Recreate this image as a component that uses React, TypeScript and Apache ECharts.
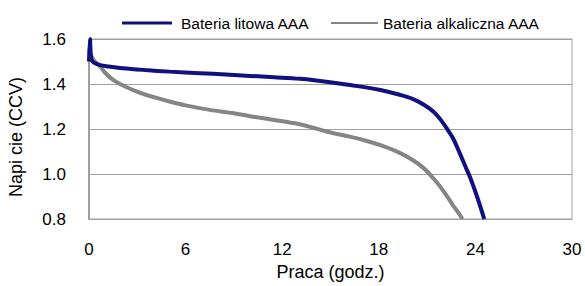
import React, { useEffect, useRef } from "react";
import * as echarts from "echarts";

const seriesNames = ["Bateria litowa AAA", "Bateria alkaliczna AAA"];
const xTicks = [0, 6, 12, 18, 24, 30];
const yTicks = [0.8, 1.0, 1.2, 1.4, 1.6];
const xTitle = "Praca (godz.)";
const yTitle = "Napi cie (CCV)";

const lithiumHours = [0, 0.06, 0.14, 0.3, 0.7, 1.2, 2.1, 3.5, 5, 6.9, 8.5, 10, 11.5, 13.1, 14.5, 16.2, 17.3, 18.1, 19.3, 20.1, 20.8, 21.4, 21.8, 22.2, 22.6, 23.0, 23.4, 23.7, 24.1, 24.55];
const lithiumVolts = [1.5, 1.6, 1.51, 1.495, 1.484, 1.478, 1.47, 1.462, 1.455, 1.448, 1.442, 1.436, 1.43, 1.423, 1.412, 1.396, 1.384, 1.373, 1.352, 1.334, 1.308, 1.277, 1.245, 1.205, 1.16, 1.097, 1.03, 0.98, 0.9, 0.8];

const alkalineHours = [0, 0.3, 0.7, 1.0, 1.5, 2.2, 3.2, 4.2, 5, 6, 7.5, 9, 10, 11.5, 13.0, 13.8, 14.8, 16.2, 17.2, 18.1, 19.3, 20.1, 20.8, 21.4, 21.8, 22.2, 22.6, 23.0, 23.2];
const alkalineVolts = [1.55, 1.505, 1.477, 1.45, 1.418, 1.39, 1.36, 1.338, 1.322, 1.305, 1.285, 1.27, 1.257, 1.24, 1.222, 1.208, 1.188, 1.166, 1.148, 1.128, 1.094, 1.062, 1.025, 0.98, 0.945, 0.905, 0.862, 0.822, 0.8];

const lithiumData = lithiumHours.map((h, i) => [h, lithiumVolts[i]]);
const alkalineData = alkalineHours.map((h, i) => [h, alkalineVolts[i]]);

const FONT = "'Liberation Sans', Arial, sans-serif";
const BLUE = "#10107f";
const GRAY = "#858585";
const GRID = "#a0a0a0";

export default function App() {
  const ref = useRef<HTMLDivElement>(null);
  useEffect(() => {
    if (!ref.current) return;
    const chart = echarts.init(ref.current, null, { renderer: "svg" });
    chart.setOption({
      animation: false,
      backgroundColor: "#ffffff",
      textStyle: { fontFamily: FONT },
      legend: [
        {
          top: 10,
          left: 117,
          icon: "rect",
          itemWidth: 50,
          itemHeight: 3,
          textStyle: { fontSize: 15.5, color: "#000", fontFamily: FONT, padding: [0, 0, 0, 4] },
          data: [seriesNames[0]],
        },
        {
          top: 10,
          left: 326,
          icon: "rect",
          itemWidth: 47,
          itemHeight: 2,
          textStyle: { fontSize: 15.5, color: "#000", fontFamily: FONT },
          data: [seriesNames[1]],
        },
      ],
      grid: {
        left: 89,
        right: 13,
        top: 39,
        bottom: 67,
        show: true,
        borderColor: GRID,
        borderWidth: 1,
        outerBoundsMode: "none",
        containLabel: false,
      },
      graphic: [
        {
          type: "text",
          x: 16,
          y: 137,
          rotation: Math.PI / 2,
          style: {
            text: yTitle,
            fontSize: 18,
            fontFamily: FONT,
            fill: "#000",
            align: "center",
            verticalAlign: "middle",
          },
        },
      ],
      xAxis: {
        type: "value",
        min: xTicks[0],
        max: xTicks[xTicks.length - 1],
        interval: 6,
        name: xTitle,
        nameLocation: "middle",
        nameGap: 38,
        nameTextStyle: { fontSize: 18, color: "#000", fontFamily: FONT },
        axisLine: { show: true, lineStyle: { color: GRID } },
        axisTick: { show: false },
        splitLine: { show: false },
        axisLabel: { fontSize: 17, color: "#000", margin: 22, fontFamily: FONT },
      },
      yAxis: {
        type: "value",
        min: yTicks[0],
        max: yTicks[yTicks.length - 1],
        interval: 0.2,
        axisLine: { show: true, lineStyle: { color: GRID, width: 2 } },
        axisTick: { show: false },
        splitLine: { show: true, lineStyle: { color: GRID, width: 1.2 } },
        axisLabel: { fontSize: 17, color: "#000", margin: 23, fontFamily: FONT, formatter: (v: number) => v.toFixed(1) },
      },
      series: [
        {
          name: seriesNames[0],
          type: "line",
          data: lithiumData,
          smooth: 0.35,
          symbol: "none",
          lineStyle: { color: BLUE, width: 4 },
          itemStyle: { color: BLUE },
          z: 3,
        },
        {
          name: seriesNames[1],
          type: "line",
          data: alkalineData,
          smooth: 0.35,
          symbol: "none",
          lineStyle: { color: GRAY, width: 4 },
          itemStyle: { color: GRAY },
          z: 2,
        },
      ],
    });
    return () => chart.dispose();
  }, []);
  return <div ref={ref} style={{ width: 585, height: 286, position: "absolute", left: 0, top: 0 }} />;
}
